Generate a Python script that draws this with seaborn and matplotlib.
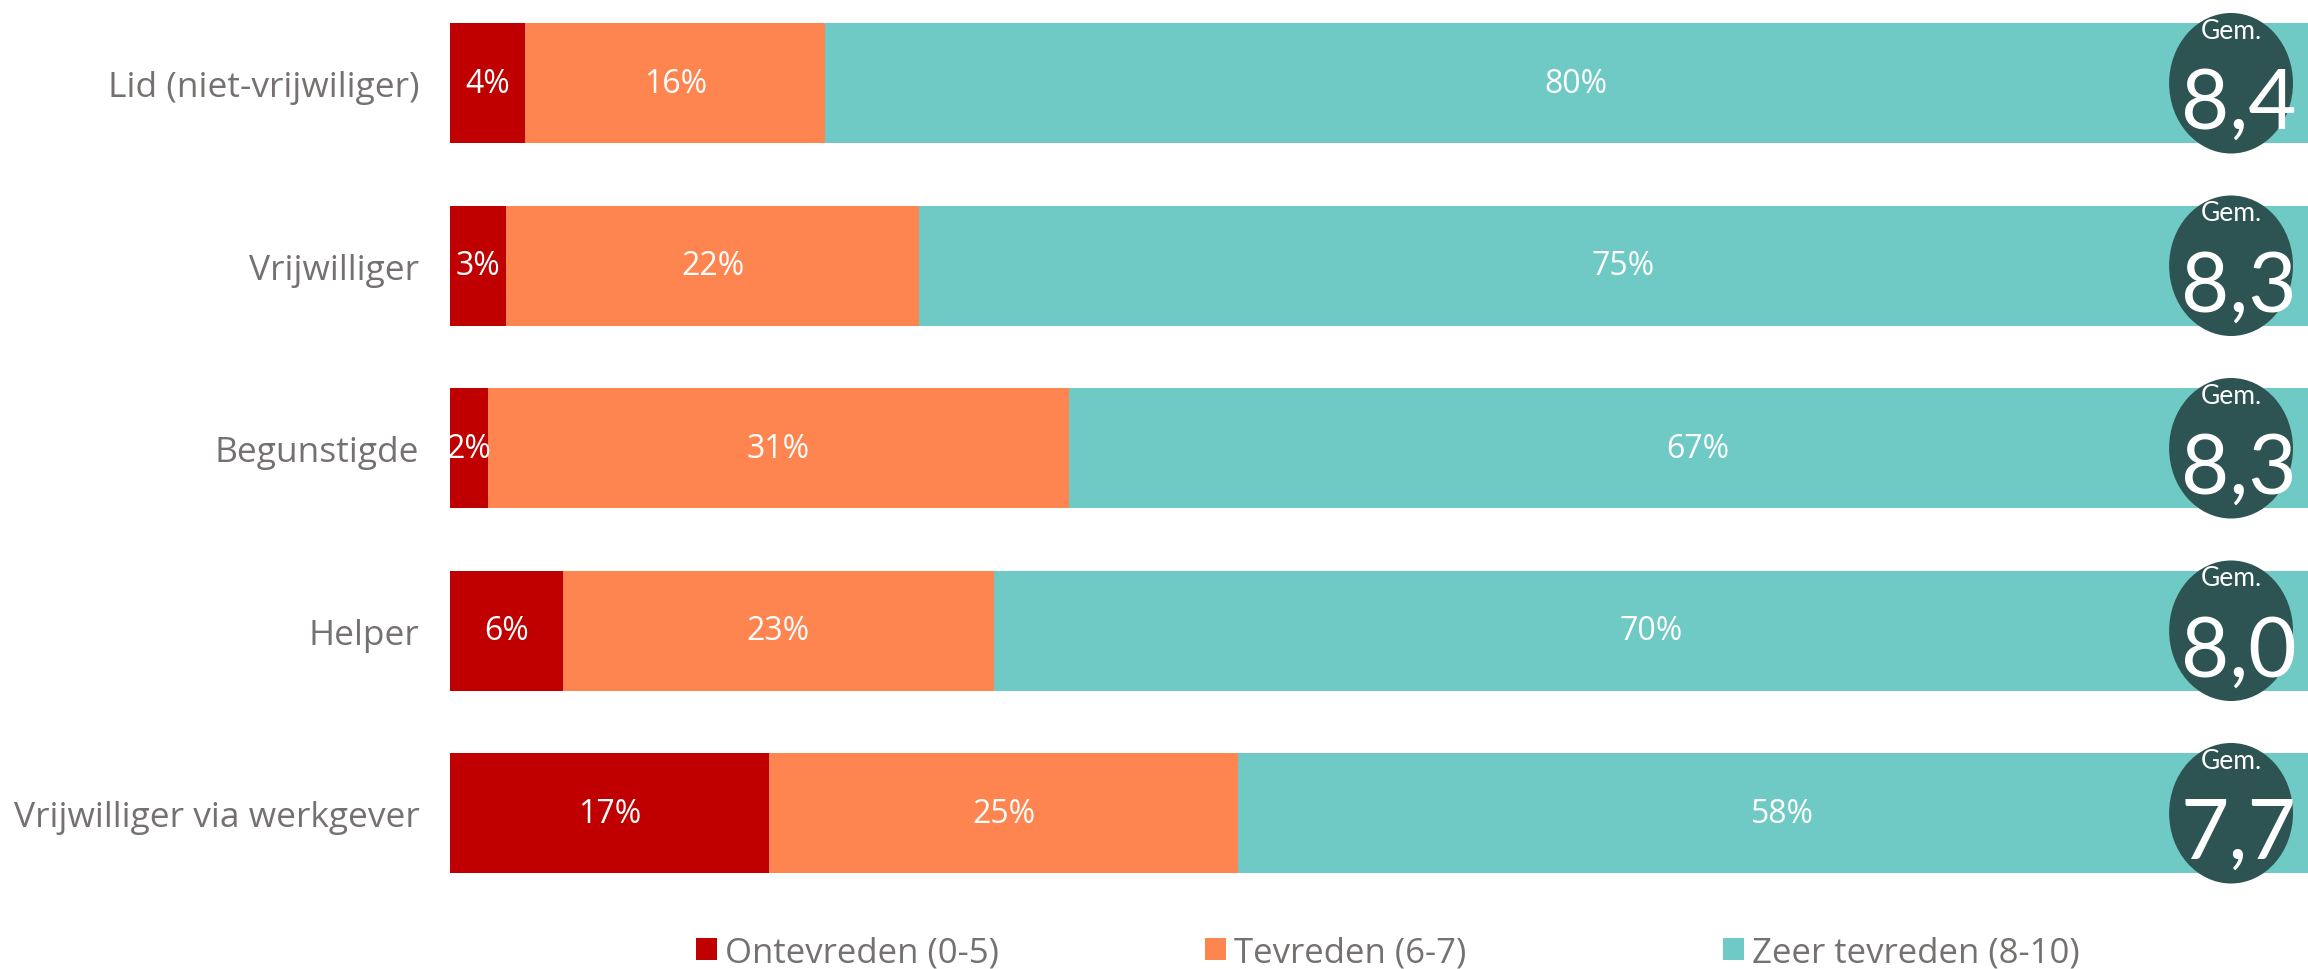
import matplotlib
matplotlib.use("Agg")
import matplotlib.pyplot as plt
import seaborn as sns
import pandas as pd
from matplotlib.patches import Ellipse, Patch

# Data
groups = ["Lid (niet-vrijwiliger)", "Vrijwilliger", "Begunstigde", "Helper",
          "Vrijwilliger via werkgever"]
ontevreden = [4, 3, 2, 6, 17]
tevreden = [16, 22, 31, 23, 25]
zeer_tevreden = [80, 75, 67, 70, 58]
gemiddelde = ["8,4", "8,3", "8,3", "8,0", "7,7"]
series_names = ["Ontevreden (0-5)", "Tevreden (6-7)", "Zeer tevreden (8-10)"]

colors = ["#C00000", "#FF8550", "#6FC9C4"]
circle_color = "#2D5452"
text_gray = "#767171"

sns.set_theme(style="white")
plt.rcParams["font.family"] = ["Open Sans", "DejaVu Sans"]

df = pd.DataFrame({
    "groep": groups,
    "o": ontevreden,
    "t": tevreden,
    "z": zeer_tevreden,
})
df["c1"] = df["o"]
df["c2"] = df["o"] + df["t"]
df["c3"] = df["o"] + df["t"] + df["z"]

fig = plt.figure(figsize=(23.08, 9.70), dpi=100)
ax = fig.add_axes([450 / 2308, 64.5 / 970, 1 - 450 / 2308, 912.5 / 970])

# stacked bars: draw totals first, then overlay the cumulative parts
bar_h = 0.66
sns.barplot(data=df, x="c3", y="groep", color=colors[2], width=bar_h,
            saturation=1, ax=ax, linewidth=0)
sns.barplot(data=df, x="c2", y="groep", color=colors[1], width=bar_h,
            saturation=1, ax=ax, linewidth=0)
sns.barplot(data=df, x="c1", y="groep", color=colors[0], width=bar_h,
            saturation=1, ax=ax, linewidth=0)

ax.set_xlim(0, 99)
ax.set_ylim(4.5, -0.5)
ax.set_xlabel("")
ax.set_ylabel("")
ax.set_xticks([])
sns.despine(ax=ax, left=True, bottom=True)
ax.tick_params(axis="y", length=0, pad=22, labelsize=25.5, labelcolor=text_gray)

# value labels
for i, row in df.iterrows():
    starts = [0, row["c1"], row["c2"]]
    vals = [row["o"], row["t"], row["z"]]
    for s, v in zip(starts, vals):
        ax.text(s + v / 2, i, f"{v}%", ha="center", va="center",
                color="white", fontsize=23)

# average circles
for i, g in enumerate(gemiddelde):
    ax.add_patch(Ellipse((94.9, i), width=6.6, height=0.77,
                         facecolor=circle_color, edgecolor="none",
                         clip_on=False, zorder=5))
    ax.text(94.9, i - 0.29, "Gem.", ha="center", va="center", color="white",
            fontsize=19, family=["Lato", "DejaVu Sans"], zorder=6)
    ax.text(95.3, i + 0.12, g, ha="center", va="center", color="white",
            fontsize=60, family=["Lato", "DejaVu Sans"], zorder=6)

# legend: one entry per slot, evenly placed like the original
legend_x = [0.3015, 0.522, 0.7465]
for c, name, lx in zip(colors, series_names, legend_x):
    fig.legend([Patch(facecolor=c, edgecolor="none")], [name],
               loc="center left", bbox_to_anchor=(lx, 0.017),
               frameon=False, fontsize=25, labelcolor=text_gray,
               handlelength=0.6, handleheight=0.6, handletextpad=0.25,
               borderpad=0, borderaxespad=0)

fig.savefig("out.png", dpi=100)
plt.close(fig)
